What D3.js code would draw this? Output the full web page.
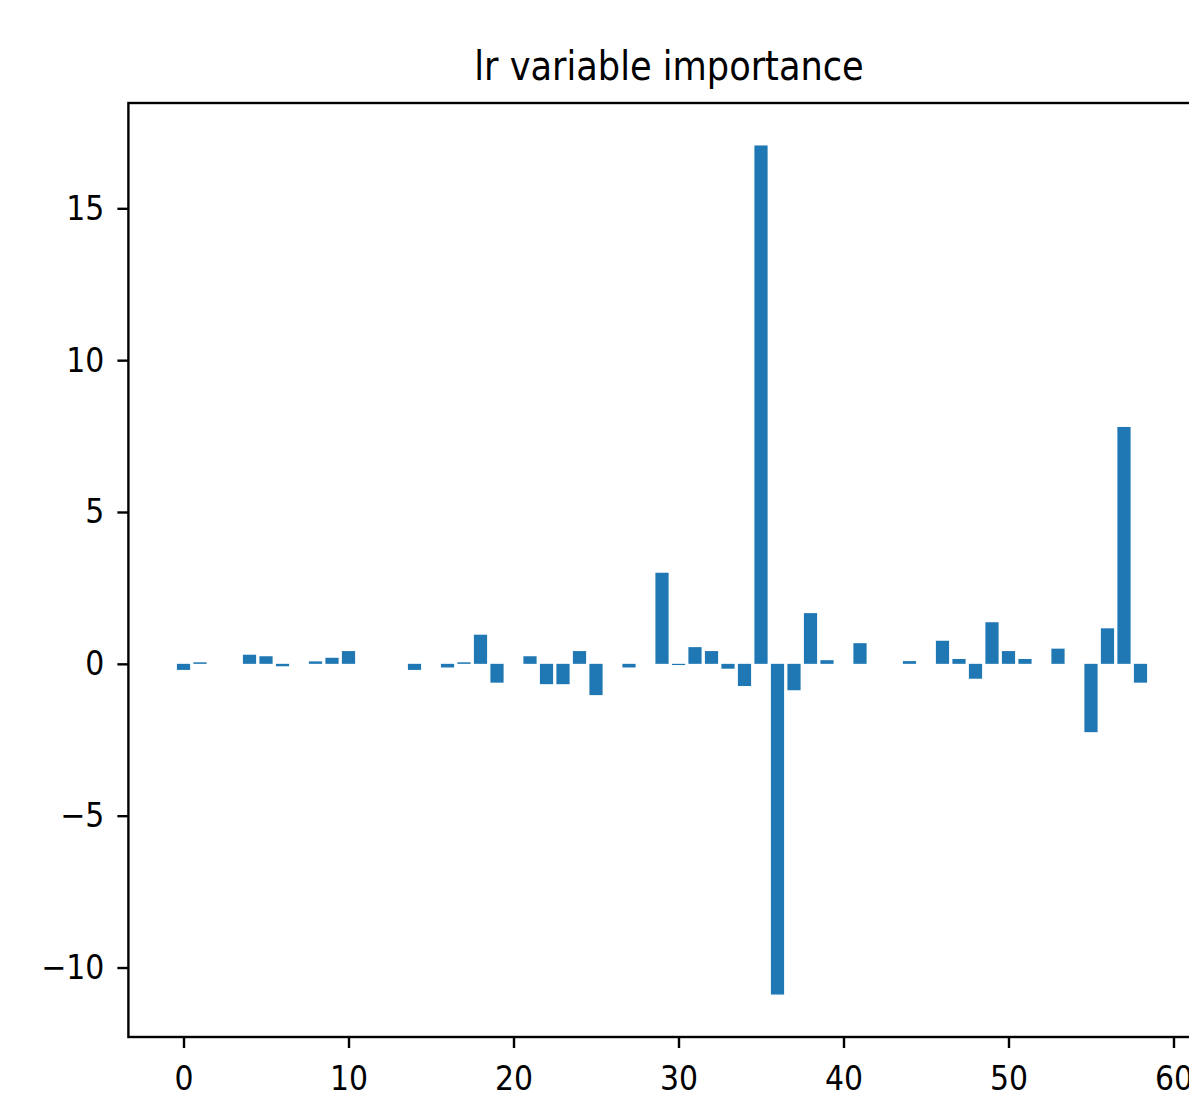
<!DOCTYPE html>
<html>
<head>
<meta charset="utf-8">
<script src="https://cdn.jsdelivr.net/npm/d3@7"></script>
<style>
  html, body { margin: 0; padding: 0; background: #fff; }
  svg { display: block; }
  text { font-family: "DejaVu Sans", sans-serif; fill: #000; }
</style>
</head>
<body>
<svg id="chart" width="1189" height="1094"></svg>
<script>
const title = "lr variable importance";
const features = d3.range(59);
const importance = [
  -0.2, 0.05, 0, 0, 0.3, 0.25, -0.08, 0, 0.08, 0.2,
  0.42, 0, 0, 0, -0.2, 0, -0.12, 0.05, 0.96, -0.62,
  0, 0.25, -0.67, -0.67, 0.42, -1.03, 0, -0.12, 0, 3.0,
  -0.04, 0.55, 0.42, -0.16, -0.73, 17.07, -10.89, -0.87, 1.67, 0.12,
  0, 0.68, 0, 0, 0.09, 0, 0.76, 0.16, -0.49, 1.37,
  0.42, 0.16, 0, 0.5, 0, -2.25, 1.17, 7.8, -0.62
];
const xTicks = [0, 10, 20, 30, 40, 50, 60];
const yTicks = [-10, -5, 0, 5, 10, 15];

(function () {
  const svg = d3.select("#chart");
  const pLeft = 128.4, pRight = 1195.6, pTop = 103, pBottom = 1037;
  const barWidth = 0.8;
  const squeeze = 0.88;

  const xMin = -barWidth / 2, xMax = features.length - 1 + barWidth / 2;
  const xPad = (xMax - xMin) * 0.05;
  const x = d3.scaleLinear().domain([xMin - xPad, xMax + xPad]).range([pLeft, pRight]);

  const [yLo, yHi] = d3.extent(importance);
  const yPad = (yHi - yLo) * 0.05;
  const y = d3.scaleLinear().domain([yLo - yPad, yHi + yPad]).range([pBottom, pTop]);

  // bars
  svg.append("g")
    .selectAll("rect")
    .data(features)
    .join("rect")
    .attr("x", i => x(i - barWidth / 2))
    .attr("width", i => x(i + barWidth / 2) - x(i - barWidth / 2))
    .attr("y", i => y(Math.max(0, importance[i])))
    .attr("height", i => Math.abs(y(importance[i]) - y(0)))
    .attr("fill", "#1f77b4");

  const fmt = d3.format("d");

  // x axis
  const xAxis = d3.axisBottom(x).tickValues(xTicks).tickFormat(fmt).tickSize(11).tickPadding(18);
  const gx = svg.append("g").attr("transform", `translate(0,${pBottom})`).call(xAxis);
  gx.select(".domain").remove();
  gx.selectAll(".tick line").attr("stroke", "#000").attr("stroke-width", 2.4);
  gx.selectAll(".tick text")
    .attr("font-size", 34).attr("font-family", "DejaVu Sans").attr("fill", "#000")
    .attr("transform", `scale(${squeeze},1)`);

  // y axis
  const yAxis = d3.axisLeft(y).tickValues(yTicks).tickFormat(fmt).tickSize(11).tickPadding(13);
  const gy = svg.append("g").attr("transform", `translate(${pLeft},0)`).call(yAxis);
  gy.select(".domain").remove();
  gy.selectAll(".tick line").attr("stroke", "#000").attr("stroke-width", 2.4);
  gy.selectAll(".tick text").each(function () {
    const t = d3.select(this);
    const tx = +t.attr("x");
    t.attr("x", 0)
      .attr("transform", `translate(${tx},0) scale(${squeeze},1)`)
      .attr("font-size", 34).attr("font-family", "DejaVu Sans").attr("fill", "#000");
  });

  // spines
  svg.append("rect")
    .attr("x", pLeft).attr("y", pTop)
    .attr("width", pRight - pLeft).attr("height", pBottom - pTop)
    .attr("fill", "none").attr("stroke", "#000").attr("stroke-width", 2.4);

  // title
  svg.append("text")
    .attr("x", 669).attr("y", 80)
    .attr("text-anchor", "middle")
    .attr("font-size", 40)
    .attr("transform", `translate(669,0) scale(${squeeze},1) translate(-669,0)`)
    .text(title);
})();
</script>
</body>
</html>
